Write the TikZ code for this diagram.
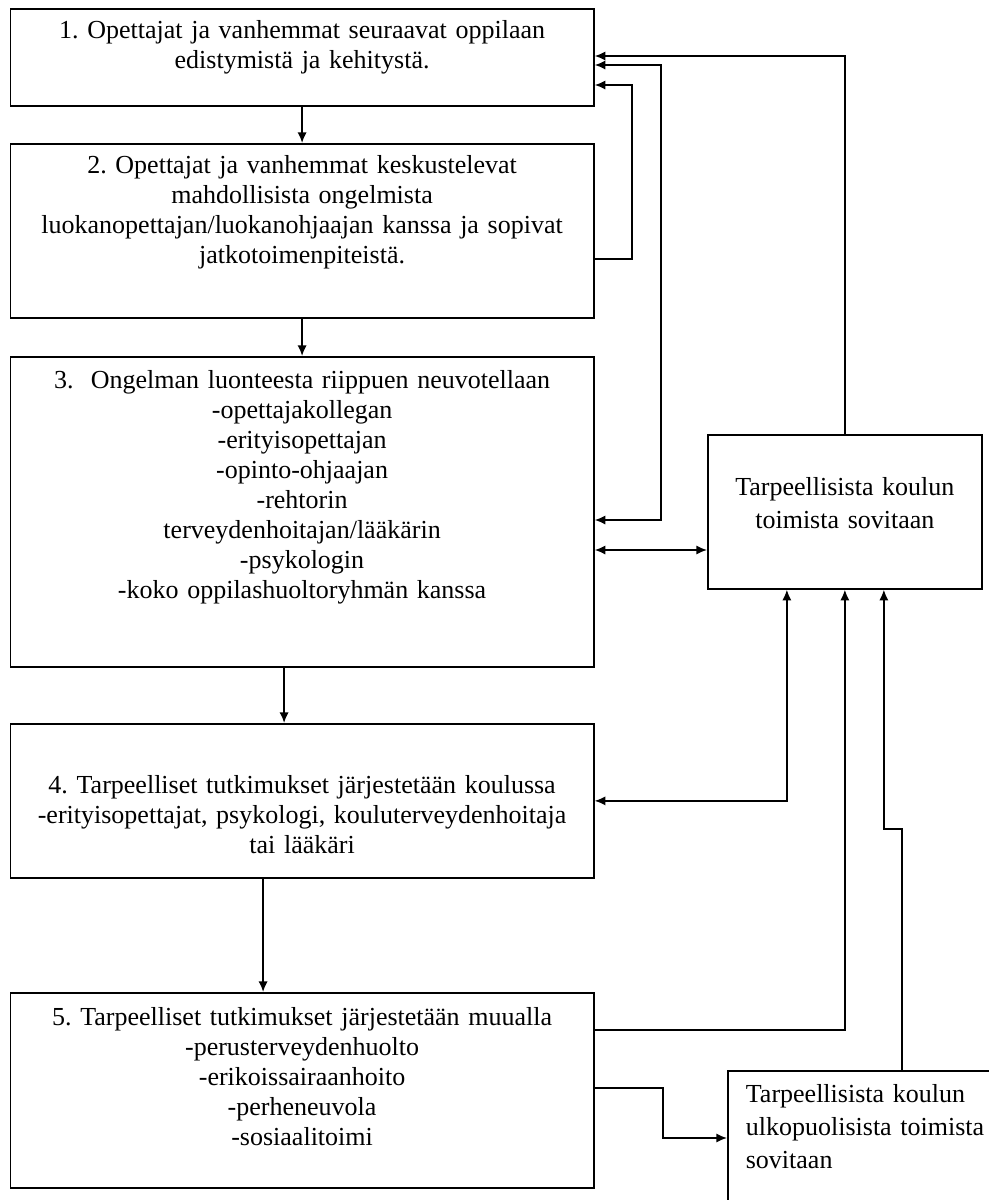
\documentclass[tikz,border=0pt]{standalone}
\usepackage{fontspec}
\setmainfont{Liberation Serif}
\frenchspacing
\usetikzlibrary{arrows.meta}

\begin{document}
\begin{tikzpicture}[x=0.75pt,y=-0.75pt,line width=1.3pt,
  >={Latex[length=8pt,width=7pt]},
  box/.style={draw,anchor=north west,inner sep=0pt,align=center,
    text width=437.6pt,font=\fontsize{19.5pt}{22.5pt}\selectfont},
  sidebox/.style={draw,anchor=north west,inner ysep=0pt,
    font=\fontsize{19.5pt}{24.5pt}\selectfont}]

\useasboundingbox (0,0) rectangle (989,1200);
\clip (0,0) rectangle (989,1200);

\node[box,text height=22.5pt,text depth=50.25pt] (b1) at (9.5,8)
  {1. Opettajat ja vanhemmat seuraavat oppilaan\\ edistymistä ja kehitystä.};
\node[box,text height=22.5pt,text depth=108pt] (b2) at (9.5,143)
  {2. Opettajat ja vanhemmat keskustelevat\\ mahdollisista ongelmista\\
   luokanopettajan/luokanohjaajan kanssa ja sopivat\\ jatkotoimenpiteistä.};
\node[box,text height=24pt,text depth=208.5pt] (b3) at (9.5,356)
  {3.\ \ Ongelman luonteesta riippuen neuvotellaan\\ -opettajakollegan\\
   -erityisopettajan\\ -opinto-ohjaajan\\ -rehtorin\\ terveydenhoitajan/lääkärin\\
   -psykologin\\ -koko oppilashuoltoryhmän kanssa};
\node[box,text height=52.5pt,text depth=63pt] (b4) at (9.5,723)
  {4. Tarpeelliset tutkimukset järjestetään koulussa\\
   -erityisopettajat, psykologi, kouluterveydenhoitaja\\ tai lääkäri};
\node[box,text height=24.75pt,text depth=121.5pt] (b5) at (9.5,992)
  {5. Tarpeelliset tutkimukset järjestetään muualla\\ -perusterveydenhuolto\\
   -erikoissairaanhoito\\ -perheneuvola\\ -sosiaalitoimi};

\node[sidebox,inner xsep=0pt,align=center,text width=205.5pt,
  text height=45.75pt,text depth=69.75pt] (r1) at (707,434)
  {Tarpeellisista koulun\\ toimista sovitaan};
\node[sidebox,inner xsep=13.5pt,align=left,text width=192.75pt,
  text height=24pt,text depth=96pt] (r2) at (727,1070)
  {Tarpeellisista koulun\\ ulkopuolisista toimista\\ sovitaan};

\coordinate (r1w) at ([yshift=-87pt]r1.north west);

% main chain
\draw[->] (b1.south) -- (b2.north);
\draw[->] (b2.south) -- (b3.north);
\draw[->] ([xshift=-13.5pt]b3.south) -- ([xshift=-13.5pt]b4.north);
\draw[->] ([xshift=-29.25pt]b4.south) -- ([xshift=-29.25pt]b5.north);

% back to box 1
\draw[->] ([yshift=-87pt]b2.north east) -- ++(37,0) |- ([yshift=-57.75pt]b1.north east);
\draw[<->] ([yshift=-42.75pt]b1.north east) -- ++(66,0) |- ([yshift=-123pt]b3.north east);
\draw[->] (r1.north) |- ([yshift=-36pt]b1.north east);

% school actions
\draw[<->] (b3.east |- r1w) -- (r1w);
\draw[<->] (b4.east) -| ([xshift=-43.5pt]r1.south);
\draw[->] ([yshift=-28.5pt]b5.north east) -| (r1.south);
\draw[->] ([yshift=-72pt]b5.north east) -- ++(68,0) |- ([yshift=-51pt]r2.north west);
\draw[->] ([xshift=131.25pt]r2.north west) -- ++(0,-241) -| ([xshift=29.25pt]r1.south);

\end{tikzpicture}
\end{document}
